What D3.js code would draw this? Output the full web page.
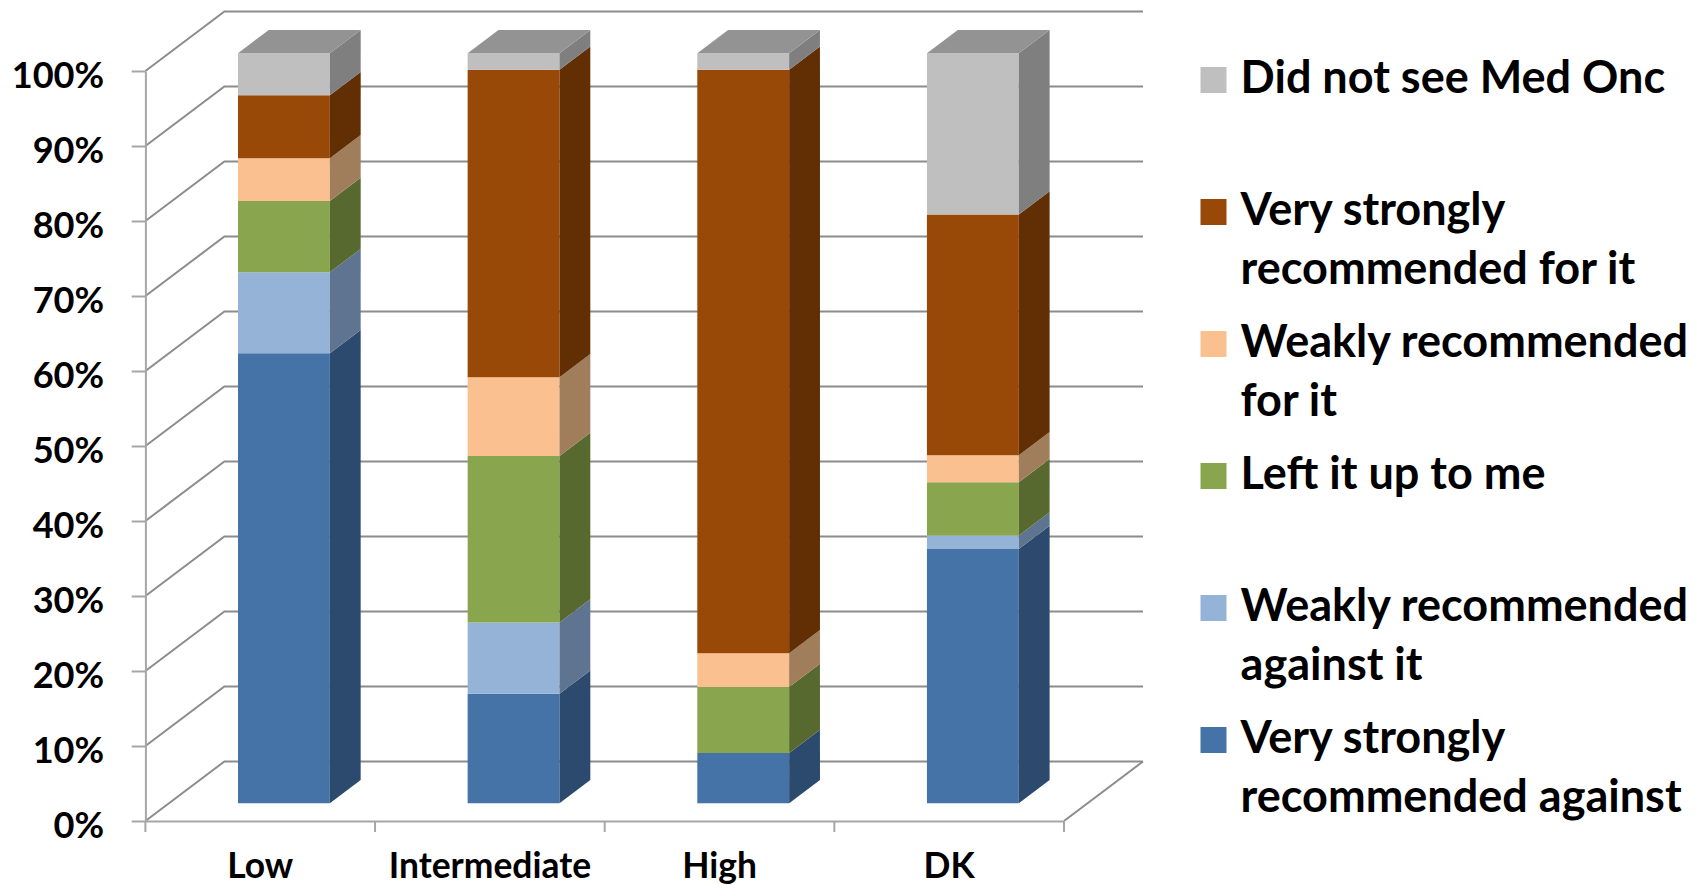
<!DOCTYPE html>
<html>
<head>
<meta charset="utf-8">
<script src="https://cdn.jsdelivr.net/npm/d3@7"></script>
<style>
  html, body { margin: 0; padding: 0; background: #fff; }
  svg { display: block; }
  text { font-family: "Lato", "Open Sans", sans-serif; font-weight: 700; fill: #000; }
</style>
</head>
<body>
<svg id="chart" width="1707" height="885"></svg>
<script>
// Risk groups along the floor of the chart
const categories = ["Low", "Intermediate", "High", "DK"];

// Series in stacking order (bottom to top), values in percent per risk group
const seriesNames = [
  "Very strongly recommended against",
  "Weakly recommended against it",
  "Left it up to me",
  "Weakly recommended for it",
  "Very strongly recommended for it",
  "Did not see Med Onc"
];
const veryStronglyAgainst = [60.0, 14.6, 6.7, 33.9];
const weaklyAgainst       = [10.8,  9.5, 0.0,  1.8];
const leftUpToMe          = [ 9.5, 22.2, 8.8,  7.1];
const weaklyFor           = [ 5.7, 10.5, 4.5,  3.6];
const veryStronglyFor     = [ 8.4, 41.0, 77.8, 32.1];
const didNotSeeMedOnc     = [ 5.6,  2.2, 2.2, 21.5];
const seriesValues = [veryStronglyAgainst, weaklyAgainst, leftUpToMe, weaklyFor, veryStronglyFor, didNotSeeMedOnc];

// Legend entries, one array of lines per series (listed top to bottom)
const legendLines = [
  ["Did not see Med Onc"],
  ["Very strongly", "recommended for it"],
  ["Weakly recommended", "for it"],
  ["Left it up to me"],
  ["Weakly recommended", "against it"],
  ["Very strongly", "recommended against"]
];

// Axis tick values
const yTickValues = [0, 10, 20, 30, 40, 50, 60, 70, 80, 90, 100];

// Face colours: front, side, top
const frontColors = ["#4572A7", "#95B3D7", "#89A54E", "#FAC090", "#984807", "#BFBFBF"];
const sideColors  = ["#2C4A6E", "#5F7490", "#58692F", "#A07E5C", "#622E04", "#7F7F7F"];
const topColors   = ["#344F75", "#7089A8", "#6A7D3C", "#C49A72", "#74390A", "#939393"];

// ---- layout ----
const svg = d3.select("#chart");
const X0 = 145.4, X1 = 1064;     // front edge of the floor
const Y0 = 821, Y1 = 71;         // 0% and 100% on the front plane
const DX = 79, DY = -59.5;       // depth vector (front plane -> back wall)
const D0 = 0.30, D1 = 0.69;      // depth range occupied by the bars

const x = d3.scaleBand().domain(categories).range([X0, X1]).paddingInner(0).paddingOuter(0);
const y = d3.scaleLinear().domain([0, 100]).range([Y0, Y1]);
const proj = (px, py, d) => [px + d * DX, py + d * DY];

const table = categories.map((c, i) => {
  const row = { category: c };
  seriesNames.forEach((s, k) => row[s] = seriesValues[k][i]);
  return row;
});
const stacked = d3.stack().keys(seriesNames)(table);

const gridColor = "#8C8C8C";
const axisColor = "#A6A6A6";
const grid = svg.append("g").attr("fill", "none").attr("stroke-width", 2);

// side wall diagonals and back wall lines
yTickValues.forEach(v => {
  const a = proj(X0, y(v), 0), b = proj(X0, y(v), 1), c = proj(X1, y(v), 1);
  grid.append("path").attr("stroke", gridColor)
    .attr("d", d3.line()([a, b, c]));
});
// right edge of the floor
grid.append("path").attr("stroke", gridColor)
  .attr("d", d3.line()([proj(X1, y(0), 0), proj(X1, y(0), 1)]));

// vertical axis (front plane)
const yAxis = d3.axisLeft(y).tickValues(yTickValues).tickFormat(d => d + "%")
  .tickSize(13.7).tickSizeOuter(0).tickPadding(27.5);
const gy = svg.append("g").attr("transform", `translate(${X0},0)`).call(yAxis);
gy.select(".domain").attr("stroke", axisColor).attr("stroke-width", 2);
gy.selectAll(".tick line").attr("stroke", axisColor).attr("stroke-width", 2);
gy.selectAll(".tick text").attr("dy", "0.45em");

// floor front edge with category boundary ticks; labels centred in each band
const xAxis = d3.axisBottom(x).tickSize(0).tickSizeOuter(0).tickPadding(0);
const gx = svg.append("g").attr("transform", `translate(0,${Y0})`).call(xAxis);
gx.select(".domain").attr("stroke", axisColor).attr("stroke-width", 2);
gx.selectAll(".tick text").attr("y", 57).attr("dy", 0);
const bounds = categories.map(c => x(c)).concat([X1]);
gx.selectAll("line.bound").data(bounds).join("line").attr("class", "bound")
  .attr("x1", d => d).attr("x2", d => d).attr("y1", 0).attr("y2", 11)
  .attr("stroke", axisColor).attr("stroke-width", 2);

// fit font sizes of text groups to their measured widths
function fit(sel, sample, width) {
  const probe = svg.append("text").attr("font-size", 40).text(sample);
  const w = probe.node().getComputedTextLength();
  probe.remove();
  const size = 40 * width / w;
  sel.attr("font-size", size);
  return size;
}
gy.selectAll(".tick text").attr("font-family", null);
gx.selectAll(".tick text").attr("font-family", null);
gy.attr("font-family", null).attr("font-size", null);
gx.attr("font-family", null).attr("font-size", null);
fit(gy.selectAll(".tick text"), "100%", 92.6);
fit(gx.selectAll(".tick text"), "Intermediate", 202.5);

// ---- 3D stacked bars ----
const bw = x.bandwidth() * 0.4;
const bars = svg.append("g");
categories.forEach((c, i) => {
  const left = x(c) + x.bandwidth() * 0.3;
  const right = left + bw;
  let topIdx = -1;
  stacked.forEach((layer, k) => {
    const [lo, hi] = layer[i];
    if (hi - lo <= 0) return;
    topIdx = k;
    const yl = y(lo), yh = y(hi);
    // front face
    const f = [proj(left, yl, D0), proj(right, yl, D0), proj(right, yh, D0), proj(left, yh, D0)];
    bars.append("path").attr("d", "M" + f.join("L") + "Z").attr("fill", frontColors[k]);
    // side face
    const s = [proj(right, yl, D0), proj(right, yl, D1), proj(right, yh, D1), proj(right, yh, D0)];
    bars.append("path").attr("d", "M" + s.join("L") + "Z").attr("fill", sideColors[k]);
  });
  // top face of the highest segment
  const yt = y(stacked[topIdx][i][1]);
  const t = [proj(left, yt, D0), proj(right, yt, D0), proj(right, yt, D1), proj(left, yt, D1)];
  bars.append("path").attr("d", "M" + t.join("L") + "Z").attr("fill", topColors[topIdx]);
});

// ---- legend ----
const legend = svg.append("g");
const LX = 1200.5, LT = 1240.6, LB = 93, STEP = 132, LINE = 59, SW = 26;
legendLines.forEach((lines, j) => {
  const k = seriesNames.length - 1 - j;
  const base = LB + STEP * j;
  legend.append("rect").attr("x", LX).attr("y", base - SW).attr("width", SW).attr("height", SW)
    .attr("fill", frontColors[k]);
  lines.forEach((ln, m) => {
    legend.append("text").attr("class", "leg").attr("x", LT).attr("y", base + m * LINE).text(ln);
  });
});
fit(legend.selectAll("text.leg"), "Weakly recommended", 447.6);
</script>
</body>
</html>
